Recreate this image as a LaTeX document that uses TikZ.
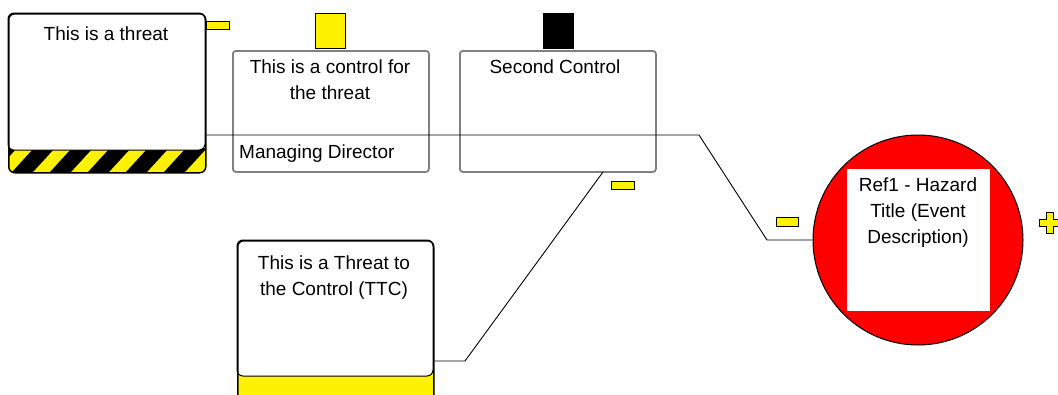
\documentclass[tikz,border=0pt]{standalone}
\usepackage{fontspec}
\setmainfont{Liberation Sans}
\definecolor{ctrlgray}{RGB}{128,128,128}
\definecolor{hazred}{RGB}{255,0,0}
\begin{document}
\begin{tikzpicture}[x=1pt,y=-1pt,
  txt/.style={font=\fontsize{19}{26}\selectfont, inner sep=0pt, align=center, anchor=north},
  txtl/.style={font=\fontsize{19}{26}\selectfont, inner sep=0pt, anchor=north west},
  threatframe/.style={draw=black, line width=1.5pt, rounded corners=6pt, minimum width=197pt, anchor=north west, inner sep=0pt},
  ctrlbox/.style={draw=ctrlgray, line width=1.8pt, rounded corners=3pt, fill=white, minimum width=196pt, minimum height=121pt, anchor=north west, inner sep=0pt},
  tab/.style={draw=black, line width=0.8pt, fill=yellow, inner sep=0pt, anchor=north west},
  conn/.style={draw=black, line width=0.9pt}]
\clip (0,0) rectangle (1058,394);
\fill[white] (0,0) rectangle (1058,394);

% ---- threat box with hazard stripes
\begin{scope}
  \clip[rounded corners=6pt] (8,13) rectangle (205,172);
  \fill[yellow] (8,13) rectangle (205,172);
  \foreach \i in {-1,...,6}
    \fill[black] ({\i*38+12},172) -- ({\i*38+33},172) -- ({\i*38+55},148) -- ({\i*38+34},148) -- cycle;
\end{scope}
\draw[fill=white, line width=1pt, rounded corners=6pt] (8,13) rectangle (205,150);
\node[threatframe, minimum height=159pt] (threat) at (8,13) {};
\node[txt] (threattxt) at (106,27) {This is a threat};
\node[tab, minimum width=23pt, minimum height=8pt] (threattab) at (206,21) {};

% ---- controls
\node[ctrlbox] (ctrl1) at (232,50) {};
\node[txt] (ctrl1txt) at (330,60) {This is a control for\\the threat};
\node[txtl] (ctrl1owner) at (239,145) {Managing Director};
\node[tab, minimum width=30pt, minimum height=35pt] (ctrl1tab) at (315,13) {};

\node[ctrlbox] (ctrl2) at (459,50) {};
\node[txt] (ctrl2txt) at (555,60) {Second Control};
\node[tab, fill=black, minimum width=30pt, minimum height=35pt] (ctrl2tab) at (543,13) {};
\node[tab, minimum width=23pt, minimum height=8pt] (ctrl2minus) at (611,181) {};

% ---- threat to the control
\begin{scope}
  \clip[rounded corners=6pt] (237,240) rectangle (433,410);
  \fill[yellow] (237,240) rectangle (433,410);
\end{scope}
\draw[fill=white, line width=1pt, rounded corners=6pt] (237,240) rectangle (433,376);
\node[threatframe, minimum width=196pt, minimum height=170pt] (ttc) at (237,240) {};
\node[txt] (ttctxt) at (334,256) {This is a Threat to\\the Control (TTC)};

% ---- hazard
\node[circle, draw=black, line width=1pt, fill=hazred, minimum size=210pt, inner sep=0pt] (hazard) at (918,240) {};
\fill[white] (847,169) rectangle (990,311);
\node[txt] (hazardtxt) at (918,178) {Ref1 - Hazard\\Title (Event\\Description)};
\node[tab, minimum width=22pt, minimum height=9pt] (hazminus) at (776,217) {};
\draw[line width=0.8pt, fill=yellow] (1046,212) -- (1053,212) -- (1053,219) -- (1060,219) -- (1060,226) -- (1053,226) -- (1053,233) -- (1046,233) -- (1046,226) -- (1039,226) -- (1039,219) -- (1046,219) -- cycle;

% ---- connectors
\coordinate (bendA) at (699,135);
\coordinate (bendB) at (767,240);
\coordinate (c2foot) at (603,172);
\coordinate (ttcbend) at (465,361);
\draw[conn] (threat.east |- bendA) -- (bendA) -- (bendB) -- (hazard.west);
\draw[conn] (c2foot) -- (ttcbend) -- (ttc.east |- ttcbend);
\end{tikzpicture}
\end{document}
